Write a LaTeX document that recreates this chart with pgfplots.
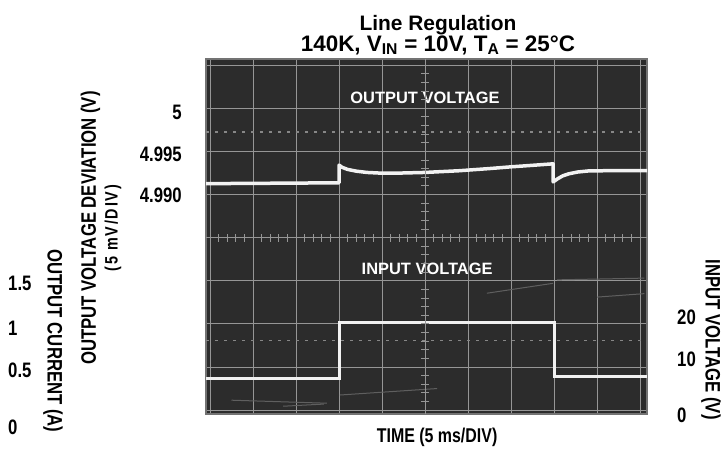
\documentclass[border=0pt]{standalone}
\usepackage{pgfplots}
\pgfplotsset{compat=1.18}
\usepackage{fontspec}
\setmainfont{Liberation Sans}
\newfontfamily\cond{Liberation Sans}[FakeStretch=0.80]
\newfontfamily\condsp{Liberation Sans}[FakeStretch=0.80, LetterSpace=10]
\definecolor{scopebg}{RGB}{44,44,44}
\definecolor{gridc}{RGB}{150,150,150}
\definecolor{framec}{RGB}{115,115,115}
\definecolor{dotc}{RGB}{135,135,135}
\definecolor{tracec}{RGB}{242,242,242}
\definecolor{streak}{RGB}{95,95,95}
\pgfplotsset{
  scopegeom/.style={at={(206bp,38bp)}, anchor=south west, scale only axis,
    width=441bp, height=355bp, xmin=-5.093, xmax=5.163, ymin=-4.09, ymax=4.14},
  labgeom/.style={at={(206bp,16bp)}, anchor=south west, scale only axis,
    width=441bp, height=377bp, xmin=-5.093, xmax=5.163, ymin=-4.6, ymax=4.14,
    axis line style={draw=none}, tick style={draw=none}, xtick=\empty,
    major tick length=0pt},
}
\begin{document}
\begin{tikzpicture}
\useasboundingbox (0,0) rectangle (724bp,452bp);
% main scope screen
\begin{axis}[scopegeom,
  axis background/.style={fill=scopebg},
  axis line style={draw=framec, line width=1.2bp},
  xtick={-5,...,5}, ytick={-4,...,4},
  xticklabels={}, yticklabels={}, major tick length=0pt,
  grid=major, grid style={draw=gridc, line width=0.8bp},
  title={Line Regulation\\{\fontsize{22.5}{20}\selectfont 140K, V\textsubscript{IN} = 10V, T\textsubscript{A} = 25\textdegree C}},
  title style={at={(axis description cs:0.526,1.108)}, anchor=north, inner sep=0pt,
    align=center, font=\bfseries\fontsize{21}{19.5}\selectfont},
  xlabel={TIME (5 ms/DIV)},
  xlabel style={at={(axis description cs:0.524,-0.065)}, anchor=center, inner sep=0pt,
    font=\cond\bfseries\fontsize{20}{20}\selectfont},
]
% reference dotted lines
\addplot[dotc, line width=1.4bp, dash pattern=on 3bp off 6bp] coordinates {(-5.093,2.45) (5.163,2.45)};
\addplot[dotc, line width=1.4bp, dash pattern=on 3bp off 6bp] coordinates {(-5.093,-2.38) (5.163,-2.38)};
% faint streaks
\addplot[streak, line width=1bp] coordinates {(-4.5,-3.77) (-2.28,-3.84)};
\addplot[streak, line width=1bp] coordinates {(-3.3,-3.91) (-2.35,-3.86)};
\addplot[streak, line width=1bp] coordinates {(-1.98,-3.65) (0.28,-3.50)};
\addplot[streak, line width=1bp] coordinates {(1.44,-1.29) (2.98,-1.06)};
\addplot[streak, line width=1bp] coordinates {(3.07,-0.98) (5.1,-0.94)};
\addplot[streak, line width=1bp] coordinates {(4.0,-1.38) (5.1,-1.30)};
% output voltage trace
\addplot[tracec, line width=3.5bp, line join=round] coordinates {
(-5.093,1.25) (-3.5,1.26) (-2.0,1.27) (-2.0,1.68) (-1.93,1.63) (-1.8,1.58)
(-1.6,1.54) (-1.35,1.51) (-1.05,1.495) (-0.6,1.495) (0,1.51) (0.8,1.55)
(1.5,1.60) (2.0,1.64) (2.5,1.675) (2.98,1.71) (2.98,1.29) (3.08,1.36)
(3.2,1.43) (3.35,1.48) (3.55,1.52) (3.8,1.545) (4.2,1.55) (5.163,1.55)};
% input voltage trace
\addplot[tracec, line width=3bp] coordinates {
(-5.093,-3.26) (-2.0,-3.26) (-2.0,-1.98) (3.02,-1.98) (3.02,-3.21) (5.163,-3.21)};
\node[text=white, font=\bfseries\fontsize{16.5}{16.5}\selectfont] at (axis cs:0,3.24) {OUTPUT VOLTAGE};
\node[text=white, font=\bfseries\fontsize{16.5}{16.5}\selectfont] at (axis cs:0.05,-0.73) {INPUT VOLTAGE};
\end{axis}
% center graticule with minor ticks
\begin{axis}[scopegeom,
  axis lines=middle, axis line style={-, draw=gridc, line width=0.8bp},
  xtick={-5,...,5}, ytick={-4,...,4}, minor x tick num=4, minor y tick num=4,
  xticklabels={}, yticklabels={}, tick align=center,
  major tick length=8bp, minor tick length=8bp,
  tick style={draw=gridc, line width=0.8bp},
]
\end{axis}
% output voltage deviation labels
\begin{axis}[scopegeom, axis line style={draw=none}, tick style={draw=none},
  xtick=\empty, major tick length=0pt,
  ytick={0.98,1.93,2.91}, yticklabels={4.990,4.995,5},
  yticklabel style={anchor=east, inner sep=0pt, xshift=-24bp,
    font=\cond\bfseries\fontsize{21}{21}\selectfont},
  ylabel={OUTPUT VOLTAGE DEVIATION (V)\\{\condsp\bfseries\fontsize{18}{18}\selectfont (5 mV/DIV)}},
  every axis y label/.style={at={(axis description cs:-0.238,0.524)}, rotate=90,
    anchor=center, align=center, inner sep=0pt,
    font=\cond\bfseries\fontsize{21}{22}\selectfont},
]
\end{axis}
% output current labels
\begin{axis}[labgeom,
  ytick={-4.40,-3.07,-2.10,-1.06}, yticklabels={0,0.5,1,1.5},
  yticklabel style={anchor=west, inner sep=0pt, xshift=-198bp,
    font=\cond\bfseries\fontsize{21}{21}\selectfont},
  ylabel={OUTPUT CURRENT (A)},
  every axis y label/.style={at={(axis description cs:-0.347,0.252)}, rotate=-90,
    anchor=center, inner sep=0pt,
    font=\cond\bfseries\fontsize{21}{21}\selectfont},
]
\end{axis}
% input voltage labels
\begin{axis}[labgeom, yticklabel pos=right,
  ytick={-4.12,-2.82,-1.84}, yticklabels={0,10,20},
  yticklabel style={anchor=west, inner sep=0pt, xshift=30bp,
    font=\cond\bfseries\fontsize{21}{21}\selectfont},
  ylabel={INPUT VOLTAGE (V)},
  every axis y label/.style={at={(axis description cs:1.145,0.256)}, rotate=-90,
    anchor=center, inner sep=0pt,
    font=\cond\bfseries\fontsize{21}{21}\selectfont},
]
\end{axis}
\end{tikzpicture}
\end{document}
